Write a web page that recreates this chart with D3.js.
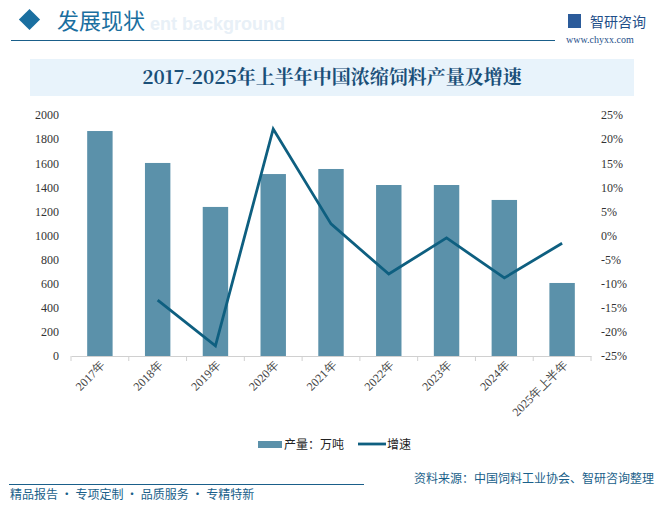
<!DOCTYPE html>
<html><head><meta charset="utf-8">
<script src="https://cdn.jsdelivr.net/npm/d3@7/dist/d3.min.js"></script>
<style>body{margin:0;background:#fff}svg{display:block}</style>
</head><body><svg id="c" width="665" height="511"></svg>
<script>
const categories=["2017年","2018年","2019年","2020年","2021年","2022年","2023年","2024年","2025年上半年"];
const production=[1867,1602,1237,1510,1552,1419,1419,1295,606];
const growth=[null,-13.4,-22.9,22.1,2.4,-8.0,-0.5,-8.8,-1.6];
const leftTicks=[0,200,400,600,800,1000,1200,1400,1600,1800,2000];
const rightTicks=[-25,-20,-15,-10,-5,0,5,10,15,20,25];

const svg=d3.select("#c");
const cjk="'Noto Sans CJK SC',sans-serif";
const serif="'Liberation Serif','DejaVu Serif',serif";
const blue="#1a5f8a";
// header
svg.append("rect").attr("x",22).attr("y",12).attr("width",15).attr("height",15).attr("fill","#1a6fa0").attr("transform","rotate(45,29.5,19.5)");
svg.append("text").attr("x",150).attr("y",30).text("ent background").attr("font-family","Arial,sans-serif").attr("font-size",18).attr("font-weight","bold").attr("fill","#e8f0f7");
svg.append("text").attr("x",57).attr("y",29).text("发展现状").attr("font-family",cjk).attr("font-size",22).attr("fill","#1a6fa0");
svg.append("line").attr("x1",11).attr("x2",555).attr("y1",40.5).attr("y2",40.5).attr("stroke",blue).attr("stroke-width",1.2);
svg.append("rect").attr("x",568).attr("y",14).attr("width",13).attr("height",14).attr("fill","#2b5b9a");
svg.append("text").attr("x",590).attr("y",27).text("智研咨询").attr("font-family",cjk).attr("font-size",14).attr("fill","#1f4f8a");
svg.append("text").attr("x",566).attr("y",43).text("www.chyxx.com").attr("font-family",serif).attr("font-size",10).attr("fill","#1f4f8a");
// title
svg.append("rect").attr("x",30).attr("y",59).attr("width",604).attr("height",37).attr("fill","#e8f3fb");
svg.append("text").attr("x",332).attr("y",84).attr("text-anchor","middle").text("2017-2025年上半年中国浓缩饲料产量及增速").attr("font-family","'Noto Serif CJK SC',"+serif).attr("font-weight","bold").attr("font-size",19).attr("fill","#1a4f78");

const x=d3.scaleBand().domain(categories).range([71,591]).paddingInner(0.56).paddingOuter(0.28);
const y=d3.scaleLinear().domain([0,2000]).range([356,115]);
const y2=d3.scaleLinear().domain([-25,25]).range([356,115]);

svg.append("g").selectAll("rect").data(production).join("rect")
 .attr("x",(d,i)=>x(categories[i])).attr("width",x.bandwidth()).attr("y",d=>y(d)).attr("height",d=>356-y(d)).attr("fill","#5b91aa");

const ax=svg.append("g").attr("transform","translate(0,356)").call(d3.axisBottom(x).tickSize(0).tickFormat(""));
ax.select(".domain").attr("stroke","#d0d0d0");
svg.append("g").selectAll("line").data(d3.range(10)).join("line")
 .attr("x1",i=>71+i*(520/9)).attr("x2",i=>71+i*(520/9)).attr("y1",356).attr("y2",361).attr("stroke","#d0d0d0");
svg.append("g").selectAll("text").data(categories).join("text")
 .attr("transform",d=>`translate(${x(d)+x.bandwidth()/2+6},366) rotate(-45)`).attr("text-anchor","end")
 .text(d=>d).attr("font-family",serif).attr("font-size",12).attr("fill","#444");

const gl=svg.append("g").attr("transform","translate(62,0)").call(d3.axisLeft(y).tickValues(leftTicks).tickSize(0).tickFormat(d3.format("d")));
gl.select(".domain").remove();
gl.selectAll("text").attr("font-family",serif).attr("font-size",12).attr("fill","#333");
const gr=svg.append("g").attr("transform","translate(598,0)").call(d3.axisRight(y2).tickValues(rightTicks).tickSize(0).tickFormat(d=>d+"%"));
gr.select(".domain").remove();
gr.selectAll("text").attr("font-family",serif).attr("font-size",12).attr("fill","#333");

const pts=growth.map((g,i)=>[g,i]).filter(p=>p[0]!==null);
svg.append("path").datum(pts).attr("fill","none").attr("stroke","#0e5f80").attr("stroke-width",2.8)
 .attr("d",d3.line().x(p=>x(categories[p[1]])+x.bandwidth()/2).y(p=>y2(p[0])));

// legend
svg.append("rect").attr("x",258).attr("y",441).attr("width",24).attr("height",7).attr("fill","#5b91aa");
svg.append("text").attr("x",284).attr("y",449).text("产量：万吨").attr("font-family",cjk).attr("font-size",12).attr("fill","#222");
svg.append("line").attr("x1",358).attr("x2",386).attr("y1",444).attr("y2",444).attr("stroke","#0e5f80").attr("stroke-width",2.8);
svg.append("text").attr("x",387).attr("y",449).text("增速").attr("font-family",cjk).attr("font-size",12).attr("fill","#222");
// footer
svg.append("line").attr("x1",9).attr("x2",364).attr("y1",484.5).attr("y2",484.5).attr("stroke",blue).attr("stroke-width",1.2);
svg.append("text").attr("x",10).attr("y",499).text("精品报告 · 专项定制 · 品质服务 · 专精特新").attr("font-family",cjk).attr("font-size",12).attr("fill","#1a5f8a");
svg.append("text").attr("x",654).attr("y",483).attr("text-anchor","end").text("资料来源：中国饲料工业协会、智研咨询整理").attr("font-family",cjk).attr("font-size",12).attr("fill","#1a5f8a");
</script></body></html>
